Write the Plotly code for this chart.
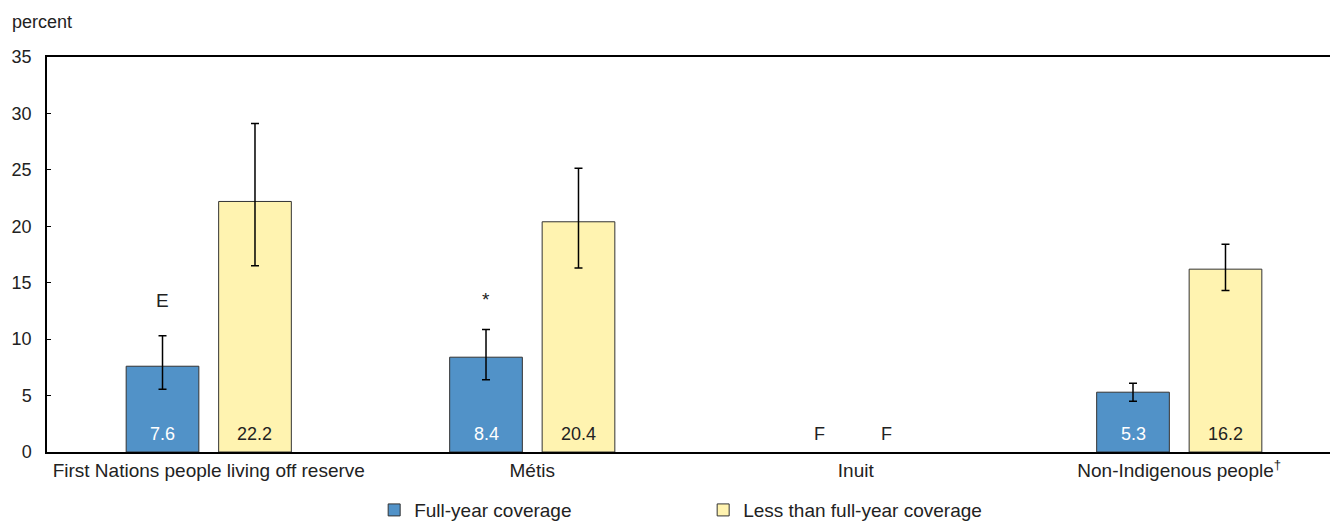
import plotly.graph_objects as go

categories = ["First Nations people living off reserve", "Métis", "Inuit", "Non-Indigenous people<sup>†</sup>"]
series_names = ["Full-year coverage", "Less than full-year coverage"]

full_year = [7.6, 8.4, None, 5.3]
full_year_hi = [10.3, 10.85, None, 6.1]
full_year_lo = [5.55, 6.4, None, 4.5]
full_year_flags = ["E", "*", "", ""]

less_full = [22.2, 20.4, None, 16.2]
less_full_hi = [29.1, 25.15, None, 18.4]
less_full_lo = [16.5, 16.3, None, 14.3]

suppressed = ["", "", "F", ""]

y_ticks = [0, 5, 10, 15, 20, 25, 30, 35]

BLUE = "#5192c8"
YELLOW = "#fff3b0"
FONT = "Liberation Sans, Arial, sans-serif"
TXT = "#222222"


def err(vals, hi, lo):
    plus = [None if v is None else h - v for v, h in zip(vals, hi)]
    minus = [None if v is None else v - l for v, l in zip(vals, lo)]
    return plus, minus


fy_plus, fy_minus = err(full_year, full_year_hi, full_year_lo)
lf_plus, lf_minus = err(less_full, less_full_hi, less_full_lo)

fig = go.Figure()
fig.add_trace(go.Bar(
    name=series_names[0], x=categories, y=full_year,
    marker=dict(color=BLUE, line=dict(color="#333333", width=1)),
    error_y=dict(type="data", symmetric=False, array=fy_plus, arrayminus=fy_minus,
                 color="black", thickness=1.5, width=4),
    width=0.2247, offset=-0.2553, hoverinfo="skip",
))
fig.add_trace(go.Bar(
    name=series_names[1], x=categories, y=less_full,
    marker=dict(color=YELLOW, line=dict(color="#333333", width=1)),
    error_y=dict(type="data", symmetric=False, array=lf_plus, arrayminus=lf_minus,
                 color="black", thickness=1.5, width=4),
    width=0.2247, offset=0.0306, hoverinfo="skip",
))

annotations = []
# value labels at the foot of each bar
for vals, xs, col in [(full_year, -46, "white"), (less_full, 46, TXT)]:
    for cat, v in zip(categories, vals):
        if v is not None:
            annotations.append(dict(x=cat, y=0, xref="x", yref="y", text=f"{v:.1f}",
                                    showarrow=False, yanchor="bottom", xshift=xs, yshift=6,
                                    font=dict(size=18, color=col, family=FONT)))
# quality flags above the error bars
for cat, flag, hi, shift in zip(categories, full_year_flags, full_year_hi, [23, 18, 0, 0]):
    if flag:
        annotations.append(dict(x=cat, y=hi, xref="x", yref="y", text=flag, showarrow=False,
                                yanchor="bottom", xshift=-46, yshift=shift,
                                font=dict(size=19, color=TXT, family=FONT)))
# suppressed estimates
for cat, s in zip(categories, suppressed):
    if s:
        for xs in (-36, 31):
            annotations.append(dict(x=cat, y=0, xref="x", yref="y", text=s, showarrow=False,
                                    yanchor="bottom", xshift=xs, yshift=6,
                                    font=dict(size=18, color=TXT, family=FONT)))
annotations.append(dict(x=-37 / 1283, y=1, xref="paper", yref="paper",
                        text="percent", showarrow=False, xanchor="left", yanchor="bottom",
                        yshift=23, font=dict(size=18, color=TXT, family=FONT)))

fig.update_layout(
    width=1330, height=521,
    margin=dict(l=47, r=0, t=57, b=69, autoexpand=False),
    paper_bgcolor="white", plot_bgcolor="white",
    font=dict(family=FONT, size=18, color=TXT),
    showlegend=True,
    legend=dict(orientation="h", x=0.2550, xanchor="left", y=-0.147, yanchor="middle",
                font=dict(size=19, color=TXT, family=FONT),
                entrywidth=284, entrywidthmode="pixels", traceorder="normal",
                itemclick=False, itemdoubleclick=False),
    annotations=annotations,
    xaxis=dict(range=[-0.5, 3.466], showline=True, linecolor="black", linewidth=1.5,
               mirror=True, ticks="", showgrid=False, zeroline=False, automargin=False,
               tickfont=dict(size=19, color=TXT, family=FONT)),
    yaxis=dict(range=[0, 35], tickvals=y_ticks, ticks="inside", ticklen=4, tickcolor="black",
               showline=True, linecolor="black", linewidth=1.5, showgrid=False, zeroline=False,
               automargin=False, ticklabelstandoff=10,
               tickfont=dict(size=18, color=TXT, family=FONT)),
)

fig.write_html("out.html", config={"displayModeBar": False},
               post_script="document.body.style.margin='0';")
